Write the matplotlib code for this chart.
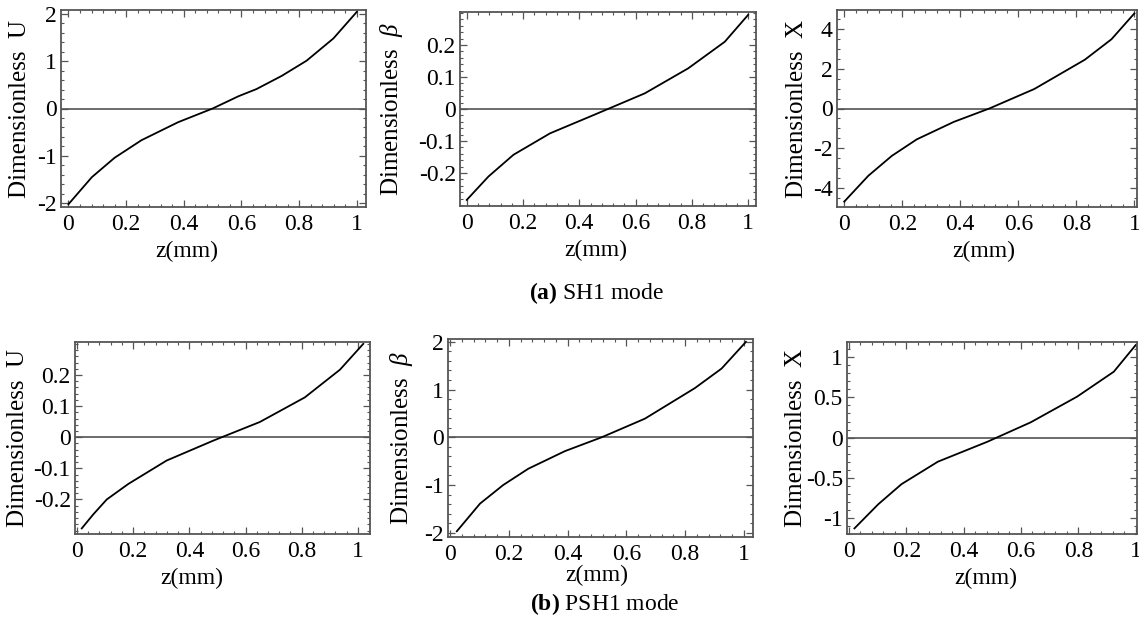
import matplotlib
matplotlib.use("Agg")
import matplotlib.pyplot as plt
from matplotlib.ticker import FixedLocator, AutoMinorLocator, FuncFormatter

plt.rcParams['font.family'] = ['Liberation Serif', 'DejaVu Serif']
plt.rcParams['mathtext.fontset'] = 'custom'
plt.rcParams['mathtext.rm'] = 'Liberation Serif'
plt.rcParams['mathtext.it'] = 'Liberation Serif:italic'
plt.rcParams['mathtext.bf'] = 'Liberation Serif:bold'
plt.rcParams['axes.unicode_minus'] = False

# ---------------- data ----------------
z_sh1_u = [0, 0.081, 0.16, 0.253, 0.38, 0.5, 0.59, 0.652, 0.74, 0.826, 0.919, 1.0]
u_sh1 = [-2.02, -1.45, -1.04, -0.67, -0.29, 0.0, 0.26, 0.41, 0.69, 1.01, 1.48, 2.04]

z_sh1_b = [0, 0.077, 0.166, 0.296, 0.456, 0.633, 0.787, 0.917, 1.0]
b_sh1 = [-0.284, -0.211, -0.143, -0.076, -0.017, 0.049, 0.127, 0.21, 0.294]

z_sh1_x = [0, 0.083, 0.164, 0.25, 0.378, 0.5, 0.655, 0.829, 0.921, 1.0]
x_sh1 = [-4.68, -3.38, -2.38, -1.55, -0.67, 0.0, 0.98, 2.45, 3.48, 4.78]

z_psh1_u = [0.017, 0.058, 0.106, 0.183, 0.319, 0.485, 0.651, 0.811, 0.936, 1.019]
u_psh1 = [-0.293, -0.248, -0.2, -0.15, -0.075, -0.011, 0.049, 0.128, 0.217, 0.30]

z_psh1_b = [0.023, 0.102, 0.181, 0.266, 0.391, 0.516, 0.663, 0.833, 0.924, 1.007]
b_psh1 = [-1.97, -1.39, -1.0, -0.66, -0.29, 0.0, 0.39, 1.03, 1.44, 2.0]

z_psh1_x = [0.019, 0.102, 0.183, 0.31, 0.484, 0.634, 0.796, 0.924, 1.0]
x_psh1 = [-1.13, -0.83, -0.58, -0.30, -0.05, 0.19, 0.51, 0.82, 1.15]

x_ticks = [0, 0.2, 0.4, 0.6, 0.8, 1]
y_ticks = [[-2, -1, 0, 1, 2], [-0.2, -0.1, 0, 0.1, 0.2], [-4, -2, 0, 2, 4],
           [-0.2, -0.1, 0, 0.1, 0.2], [-2, -1, 0, 1, 2], [-1, -0.5, 0, 0.5, 1]]

x_label = "z(mm)"
y_labels = ["Dimensionless  U", r"Dimensionless  $\beta$", "Dimensionless  X",
            "Dimensionless  U", r"Dimensionless  $\beta$", "Dimensionless  X"]
captions = [r"$\mathbf{(a)}$ SH1 mode", r"$\mathbf{(b)}$ PSH1 mode"]

# ---------------- layout ----------------
W, H = 1139, 622
fig = plt.figure(figsize=(W / 100, H / 100), dpi=100)

# pixel boxes: left, right, top, bottom
boxes = [(61, 366, 10, 207), (460, 756, 12, 206), (837, 1137, 10, 207),
         (75, 370, 342, 534), (448, 753, 339, 537), (847, 1137, 342, 534)]
xlims = [(-0.026, 1.032), (-0.024, 1.028), (-0.025, 1.009),
         (-0.007, 1.043), (-0.007, 1.031), (-0.007, 1.005)]
ylims = [(-2.08, 2.08), (-0.303, 0.303), (-4.95, 4.95),
         (-0.311, 0.306), (-2.09, 2.06), (-1.2, 1.19)]
yminor = [5, 5, 4, 5, 5, 5]
ylab_x = [-0.134, -0.23, -0.133, -0.193, -0.154, -0.176]
xlab_x = [0.413, 0.459, 0.49, 0.396, 0.487, 0.479]
xlab_off = [44, 44, 44, 44, 38, 44]

series = [(z_sh1_u, u_sh1), (z_sh1_b, b_sh1), (z_sh1_x, x_sh1),
          (z_psh1_u, u_psh1), (z_psh1_b, b_psh1), (z_psh1_x, x_psh1)]

fmt = FuncFormatter(lambda v, p: ("%g" % round(v, 6)))
spine_c = '#555555'

for i, (zz, yy) in enumerate(series):
    l, r, t, b = boxes[i]
    ax = fig.add_axes([l / W, 1 - b / H, (r - l) / W, (b - t) / H])
    ax.axhline(0, color='#444444', lw=1.1, zorder=1)
    ax.plot(zz, yy, color='black', lw=1.3, zorder=2)
    ax.set_xlim(*xlims[i])
    ax.set_ylim(*ylims[i])
    ax.xaxis.set_major_locator(FixedLocator(x_ticks))
    ax.xaxis.set_minor_locator(AutoMinorLocator(5))
    ax.yaxis.set_major_locator(FixedLocator(y_ticks[i]))
    ax.yaxis.set_minor_locator(AutoMinorLocator(yminor[i]))
    ax.xaxis.set_major_formatter(fmt)
    ax.yaxis.set_major_formatter(fmt)
    ax.tick_params(which='both', direction='in', top=True, right=True,
                   color=spine_c, labelsize=17)
    ax.tick_params(which='major', length=5, width=0.9)
    ax.tick_params(which='minor', length=2.5, width=0.8)
    ax.tick_params(axis='x', pad=5)
    ax.tick_params(axis='y', pad=3)
    for s in ax.spines.values():
        s.set_color(spine_c)
        s.set_linewidth(1.3)
    h = b - t
    ax.set_ylabel(y_labels[i], fontsize=18, va='center')
    ax.yaxis.set_label_coords(ylab_x[i], 0.5)
    ax.set_xlabel(x_label, fontsize=17, va='center')
    ax.xaxis.set_label_coords(xlab_x[i], -xlab_off[i] / h)

fig.text(0.524, 1 - 293 / H, captions[0], fontsize=17, ha='center', va='center')
fig.text(0.531, 1 - 604 / H, captions[1], fontsize=17, ha='center', va='center')

fig.savefig("out.png", dpi=100)
